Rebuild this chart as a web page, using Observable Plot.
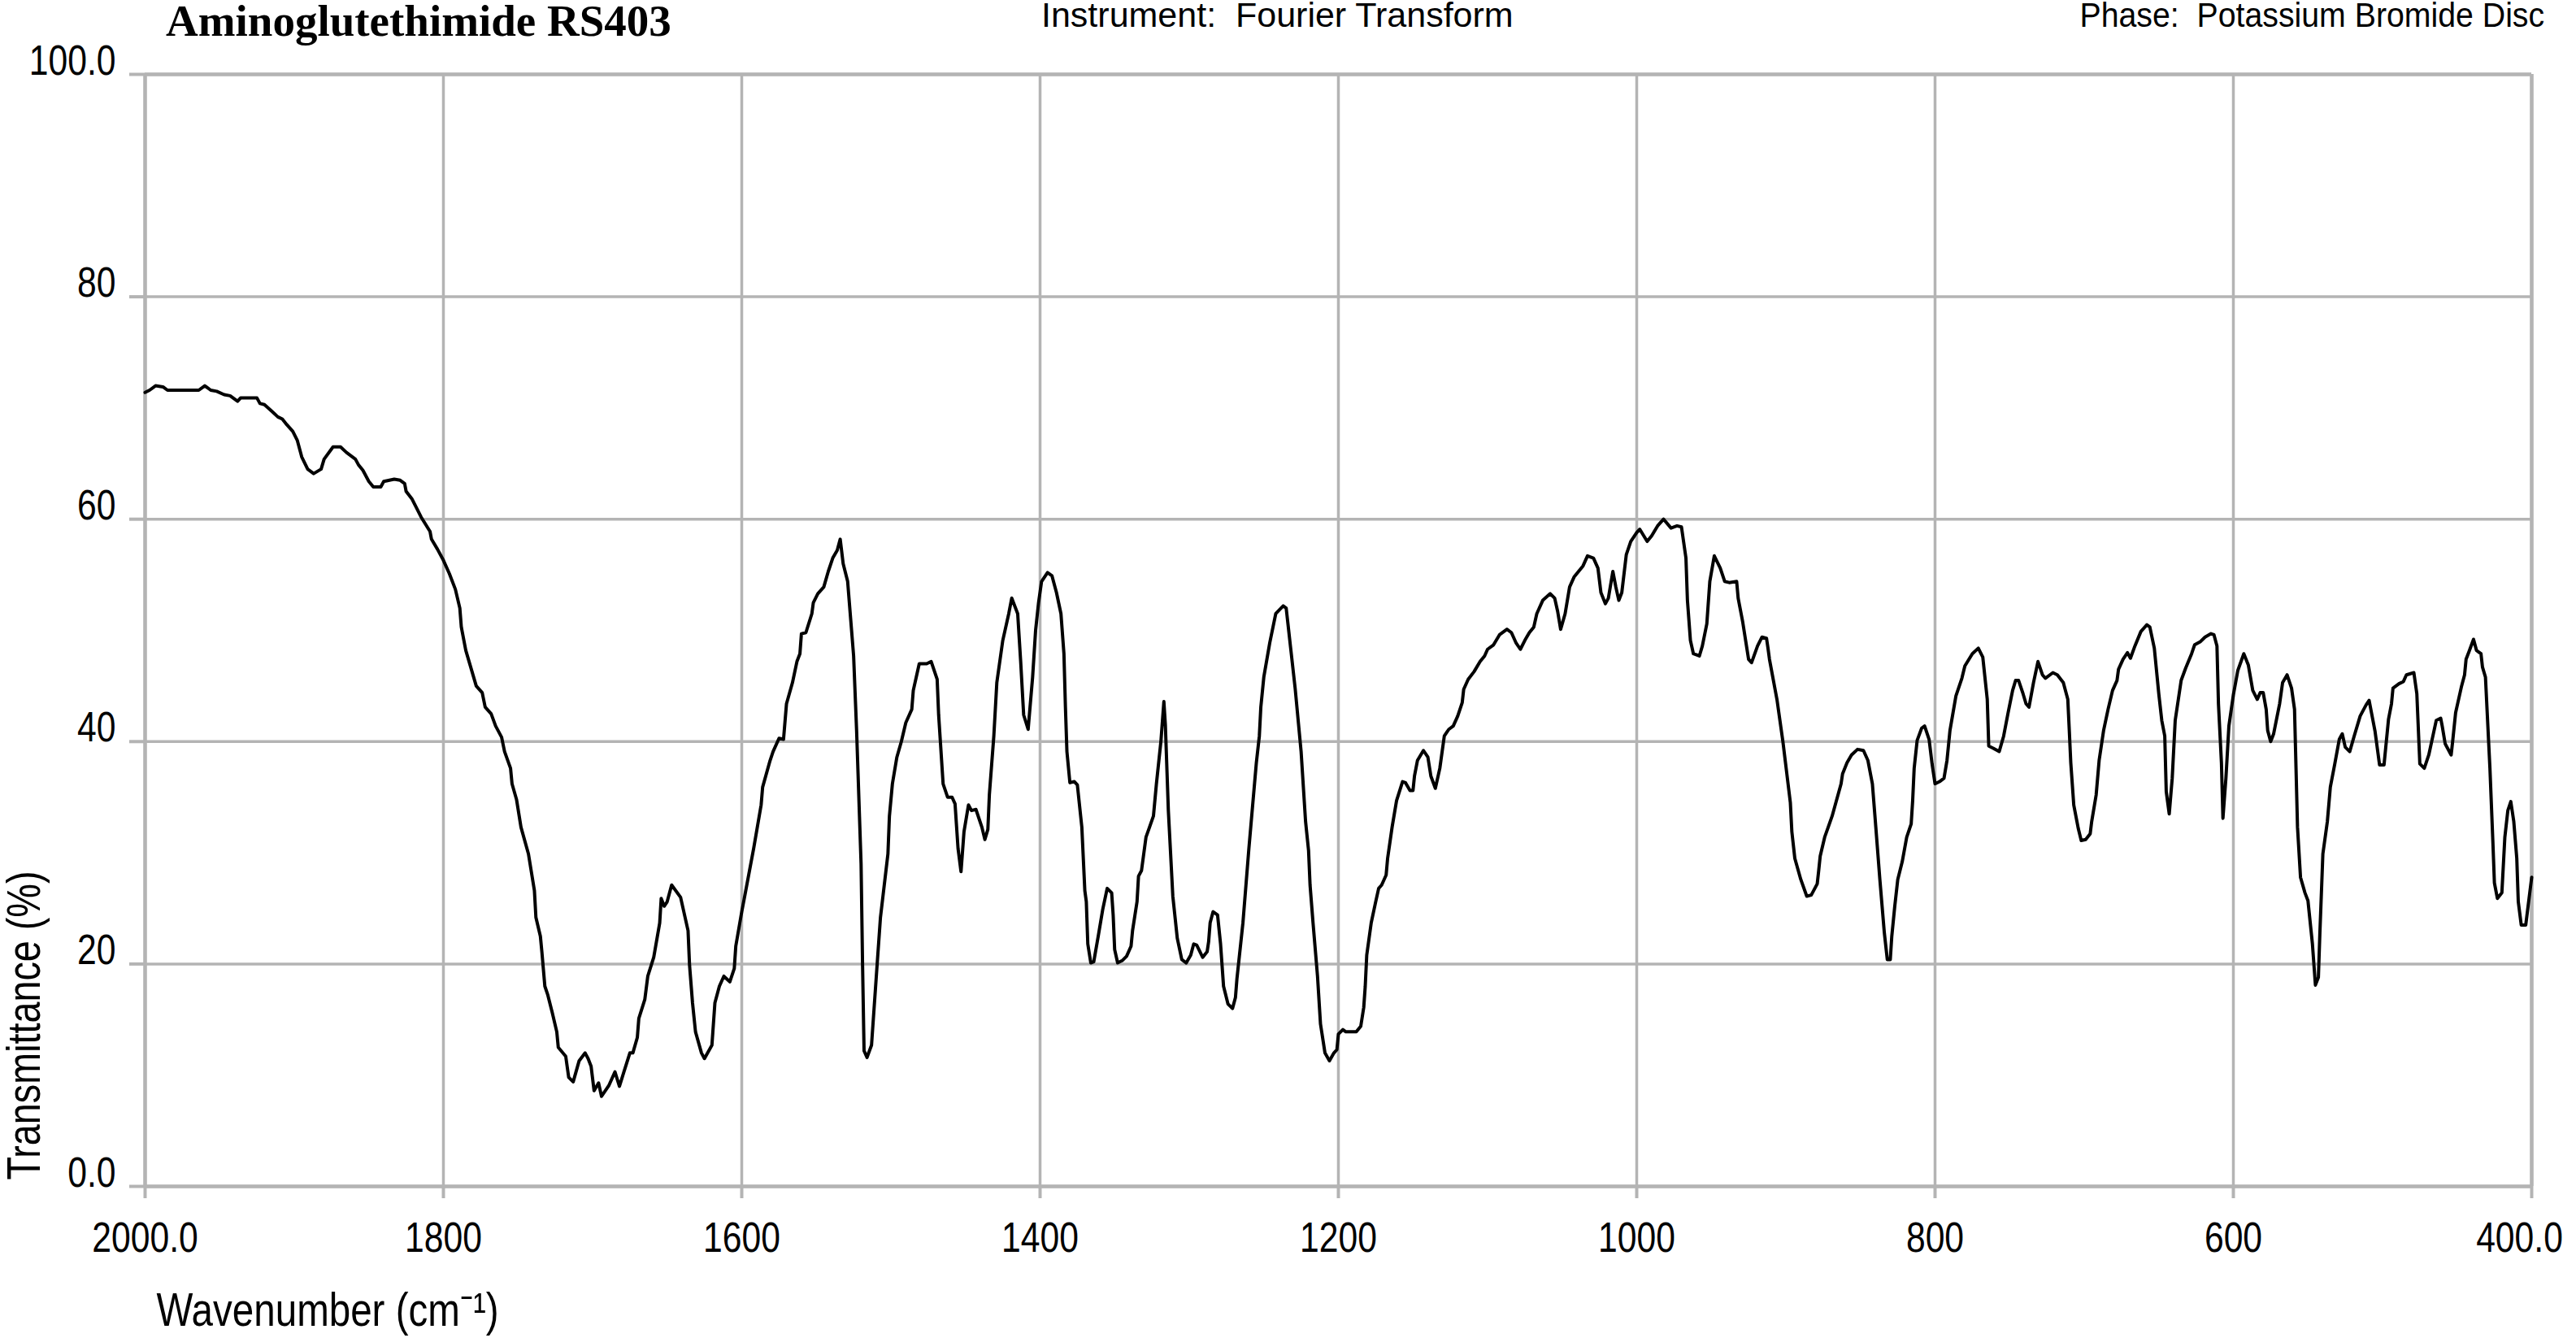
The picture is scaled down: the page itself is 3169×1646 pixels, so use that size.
<!DOCTYPE html>
<html><head><meta charset="utf-8">
<script src="https://cdn.jsdelivr.net/npm/d3@7"></script>
<script src="https://cdn.jsdelivr.net/npm/@observablehq/plot@0.6"></script>
<style>
body{margin:0;background:#fff;width:3169px;height:1646px;overflow:hidden}
#hdr{position:relative;height:30px;z-index:2}
#hdr span{position:absolute;line-height:1;white-space:pre;color:#000}
.t{font-family:"Liberation Serif","Times New Roman",serif;font-weight:bold;font-size:55px;left:204px;top:-2px}
.i{font-family:"Liberation Sans",Arial,sans-serif;font-size:43px;top:-3px}
.p{transform:scaleX(0.913);transform-origin:right center}
#chart{position:relative;z-index:1}
</style></head>
<body>
<div id="hdr"><span class="t">Aminoglutethimide RS403</span><span class="i" style="left:1281px">Instrument:  Fourier Transform</span><span class="i p" style="right:39px">Phase:  Potassium Bromide Disc</span></div>
<div id="chart"></div>
<script>
const wavenumber = [2000,1997,1993,1988,1985,1964,1960,1956,1952,1947,1943,1938,1936,1925,1923,1920,1915,1911,1908,1905,1901,1898,1895,1891,1887,1882,1880,1874,1869,1865,1859,1857,1854,1850,1847,1842,1840,1833,1829,1826,1825,1821,1815,1809,1808,1804,1800,1796,1792,1789,1788,1785,1778,1774,1772,1768,1765,1761,1759,1755,1754,1751,1748,1743,1739,1738,1735,1734,1732,1730,1727,1724,1723,1718,1716,1713,1709,1705,1703,1701,1699,1696,1694,1689,1685,1682,1679,1675,1673,1670,1669,1665,1663,1659,1655,1654,1652,1650,1647,1641,1636,1635,1633,1631,1627,1625,1620,1618,1615,1612,1608,1605,1604,1600,1598,1592,1587,1586,1581,1579,1575,1572,1570,1566,1563,1561,1560,1557,1553,1552,1549,1545,1542,1539,1536,1534,1532,1529,1525,1523,1520,1519,1518,1516,1513,1509,1507,1502,1501,1499,1496,1493,1490,1486,1485,1481,1476,1473,1469,1468,1465,1462,1459,1457,1455,1453,1451,1448,1446,1443,1439,1437,1435,1434,1431,1429,1425,1421,1419,1415,1413,1411,1408,1405,1403,1401,1399,1395,1392,1389,1386,1384,1383,1382,1380,1377,1375,1372,1370,1369,1368,1366,1364,1361,1358,1355,1352,1351,1350,1348,1345,1342,1339,1338,1335,1334,1332,1329,1324,1322,1319,1317,1316,1314,1311,1308,1305,1302,1299,1297,1295,1291,1288,1287,1286,1284,1281,1279,1277,1274,1271,1269,1268,1264,1260,1255,1253,1252,1250,1246,1242,1237,1235,1234,1232,1229,1225,1222,1220,1219,1217,1214,1212,1209,1206,1203,1201,1200,1197,1195,1188,1185,1183,1182,1181,1178,1175,1173,1171,1168,1167,1164,1161,1157,1155,1152,1150,1149,1147,1143,1140,1138,1135,1132,1129,1126,1123,1120,1117,1116,1113,1109,1105,1102,1100,1096,1092,1087,1084,1081,1078,1075,1072,1069,1067,1063,1058,1055,1053,1051,1048,1045,1042,1036,1033,1029,1026,1024,1021,1019,1016,1014,1012,1010,1007,1004,1000,998,993,990,986,982,977,973,970,967,966,964,962,958,956,953,951,948,944,941,938,933,932,929,925,923,919,916,913,912,911,906,902,897,896,894,890,886,883,879,878,877,874,869,863,862,859,856,852,848,845,842,840,837,834,832,830,829,827,825,822,819,816,815,814,812,809,807,804,802,800,797,794,792,790,786,782,780,775,771,768,765,764,761,757,754,751,748,746,744,741,739,737,734,731,728,726,721,718,714,711,710,709,707,704,702,699,696,695,692,690,687,684,681,678,677,674,671,669,666,662,658,656,653,650,648,646,645,643,641,639,635,632,628,626,622,619,615,613,611,610,608,607,605,603,600,597,593,590,587,584,582,580,578,577,575,573,569,567,564,561,559,558,557,555,552,550,547,545,543,542,540,537,535,532,529,527,525,522,519,515,511,509,505,502,499,496,494,493,489,486,484,479,477,475,472,469,464,461,460,458,454,453,451,447,445,444,442,439,437,434,433,431,428,426,425,423,420,418,416,414,412,410,409,407,404,400];
const transmittance = [71.4,71.6,72.0,71.9,71.6,71.6,72.0,71.6,71.5,71.2,71.1,70.6,70.9,70.9,70.4,70.3,69.7,69.2,69.0,68.5,67.9,67.1,65.6,64.5,64.1,64.5,65.4,66.5,66.5,66.0,65.4,64.9,64.4,63.4,62.9,62.9,63.4,63.6,63.5,63.2,62.5,61.8,60.2,58.9,58.2,57.3,56.3,55.1,53.7,52.0,50.3,48.2,45.0,44.4,43.1,42.5,41.4,40.4,39.1,37.6,36.2,34.8,32.3,29.9,26.6,24.2,22.5,21.1,18.0,17.2,15.6,13.9,12.5,11.7,9.8,9.4,11.3,12.0,11.5,10.8,8.6,9.3,8.1,9.1,10.3,9.0,10.3,12.0,12.0,13.4,15.1,16.8,18.9,20.6,23.7,25.9,25.2,25.6,27.1,26.0,23.0,19.9,16.5,13.9,12.0,11.5,12.7,16.5,18.0,18.9,18.4,19.6,21.6,24.7,26.1,30.4,34.3,35.9,38.3,39.1,40.3,40.2,43.4,45.3,47.2,47.9,49.7,49.8,51.5,52.5,53.3,53.9,55.3,56.5,57.2,58.2,56.0,54.4,47.7,41.0,29.0,19.9,12.2,11.6,12.7,20.4,24.2,29.9,33.3,36.2,38.6,40.0,41.7,42.9,44.6,47.0,47.0,47.2,45.6,42.4,36.2,35.0,35.0,34.4,30.4,28.3,31.9,34.3,33.8,33.9,32.3,31.2,32.1,35.2,40.5,45.3,49.1,51.5,52.9,51.5,47.2,42.4,41.1,45.8,50.0,52.5,54.4,55.2,54.9,53.4,51.5,47.9,43.1,39.1,36.3,36.4,36.1,32.3,26.6,25.6,21.8,20.1,20.2,22.5,24.9,26.8,26.4,24.4,21.3,20.1,20.3,20.7,21.6,23.0,25.6,27.9,28.4,31.4,33.3,36.2,40.0,43.6,41.5,33.8,26.1,22.3,20.4,20.1,20.8,21.8,21.7,20.6,21.1,22.0,23.7,24.7,24.4,21.8,18.0,16.4,16.0,17.0,18.7,23.7,30.4,38.1,40.5,43.1,45.8,48.9,51.5,52.2,52.0,50.8,48.4,44.8,39.1,32.8,30.2,27.1,23.7,18.9,14.6,12.0,11.3,12.0,12.3,13.7,14.1,13.9,13.9,14.4,16.1,18.0,20.8,23.7,25.6,26.8,27.1,28.0,29.5,32.3,34.7,36.4,36.3,35.6,35.6,36.9,38.3,39.2,38.6,36.9,35.8,37.6,40.5,41.1,41.4,42.3,43.5,44.7,45.6,46.3,47.2,47.7,48.3,48.7,49.6,50.1,49.8,48.9,48.3,49.1,49.8,50.3,51.5,52.7,53.3,52.9,51.7,50.1,51.5,53.9,54.8,55.8,56.7,56.5,55.6,53.4,52.4,52.9,55.3,53.9,52.7,53.4,56.8,58.0,58.8,59.1,58.0,58.5,59.4,60.0,59.2,59.4,59.3,56.5,52.7,49.1,47.9,47.7,48.6,50.6,54.4,56.7,55.6,54.4,54.3,54.4,52.9,50.8,47.4,47.1,48.6,49.4,49.3,48.4,47.4,43.8,40.0,34.5,31.9,29.5,27.6,26.1,26.2,27.2,28.4,29.7,31.4,33.3,36.2,37.1,38.1,38.8,39.3,39.2,38.3,36.2,32.8,27.6,22.8,20.4,20.4,22.5,25.2,27.6,29.2,31.4,32.6,34.7,37.6,40.1,41.2,41.4,40.2,38.0,36.2,36.4,36.7,38.3,41.0,44.1,45.7,46.8,47.9,48.4,47.6,43.8,39.6,39.4,39.1,40.5,42.6,44.6,45.5,45.5,44.3,43.4,43.1,45.3,47.2,46.0,45.7,46.2,46.0,45.3,43.8,41.0,38.1,34.3,32.2,31.1,31.2,31.7,32.8,35.2,38.3,41.0,42.9,44.6,45.5,46.5,47.4,48.0,47.5,48.6,49.9,50.5,50.3,48.4,44.3,41.9,40.5,35.5,33.5,36.7,41.9,45.5,46.6,47.9,48.7,49.0,49.4,49.7,49.6,48.6,43.4,38.1,33.1,36.7,41.4,44.2,46.4,47.9,46.9,44.6,43.8,44.4,44.4,42.9,41.0,40.0,40.7,43.4,45.3,46.0,44.8,42.9,37.6,32.3,27.8,26.4,25.7,21.8,18.1,18.8,22.8,29.9,32.8,35.9,38.0,40.2,40.7,39.5,39.1,40.5,42.3,43.3,43.7,40.9,37.9,37.9,42.0,43.4,44.8,45.2,45.4,46.0,46.2,44.3,38.0,37.6,38.8,41.9,42.1,41.4,39.8,38.8,40.0,42.6,45.0,46.0,47.4,48.1,49.2,48.2,47.9,46.7,45.8,37.6,30.9,27.3,25.9,26.4,31.4,33.8,34.6,32.8,29.5,25.6,23.5,23.5,27.8];

const xTicks = [2000,1800,1600,1400,1200,1000,800,600,400];
const xTickLabels = ["2000.0","1800","1600","1400","1200","1000","800","600","400.0"];
const yTicks = [0,20,40,60,80,100];
const yTickLabels = ["0.0","20","40","60","80","100.0"];
const xLabel = "Wavenumber (cm\u207B\u00B9)";
const yLabel = "Transmittance (%)";

const pts = wavenumber.map((w, i) => ({w, t: transmittance[i]}));
const sans = "'Liberation Sans',Arial,sans-serif";
const grid = "#b4b4b4";

const chart = Plot.plot({
  width: 3169, height: 1616,
  marginLeft: 178, marginRight: 55, marginTop: 61, marginBottom: 187,
  style: {fontFamily: sans, fontSize: "52px", color: "#000", background: "transparent", overflow: "visible"},
  x: {domain: [2000, 400], ticks: xTicks},
  y: {domain: [0, 100], ticks: yTicks},
  marks: [
    Plot.gridX(xTicks, {stroke: grid, strokeOpacity: 1, strokeWidth: 3.5}),
    Plot.gridY(yTicks, {stroke: grid, strokeOpacity: 1, strokeWidth: 3.5}),
    Plot.ruleX([2000, 400], {stroke: grid, strokeWidth: 4.5}),
    Plot.ruleY([0, 100], {stroke: grid, strokeWidth: 4.5}),
    Plot.axisX(xTicks, {tickSize: 15, stroke: grid, strokeWidth: 4, tickPadding: 29, fill: "#000", fontSize: 52,
      tickFormat: d => xTickLabels[xTicks.indexOf(d)], label: null}),
    Plot.axisY(yTicks, {tickSize: 19, stroke: grid, strokeWidth: 4, tickPadding: 17, lineAnchor: "bottom", fill: "#000", fontSize: 52,
      tickFormat: d => yTickLabels[yTicks.indexOf(d)], label: null}),
    Plot.line(pts, {x: "w", y: "t", stroke: "#000", strokeWidth: 4, strokeLinejoin: "round"}),
    Plot.text([xLabel], {text: d => d, frameAnchor: "bottom-left", dx: 14, dy: 171, lineAnchor: "bottom", textAnchor: "start", fontSize: 58, fill: "#000"}),
    Plot.text([yLabel], {text: d => d, frameAnchor: "bottom-left", dx: -130, dy: -8, rotate: -90, lineAnchor: "bottom", textAnchor: "start", fontSize: 57, fill: "#000"})
  ]
});
// condensed lettering as in the reference
chart.querySelectorAll("text").forEach(t => {
  const tr = t.getAttribute("transform") || "";
  let pre = "";
  if (t.textContent === "400.0") pre = "translate(-15,0) ";
  t.setAttribute("transform", pre + tr + " scale(0.82,1)");
});
document.getElementById("chart").appendChild(chart);
</script>
</body></html>
